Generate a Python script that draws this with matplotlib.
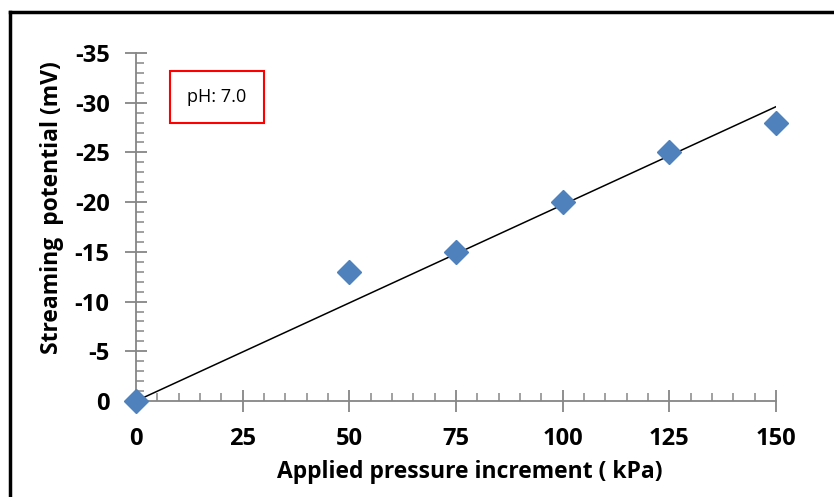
import numpy as np
import matplotlib.pyplot as plt
from matplotlib.ticker import MultipleLocator
from matplotlib.lines import Line2D

# measured data
pressure = np.array([0, 50, 75, 100, 125, 150])
potential = np.array([0, -13, -15, -20, -25, -28])

plt.rcParams['font.family'] = ['Open Sans', 'DejaVu Sans']
plt.rcParams['axes.unicode_minus'] = False

# linear trend forced through origin
slope = np.sum(pressure * potential) / np.sum(pressure * pressure)
x_fit = np.array([0, 150])
y_fit = slope * x_fit

fig = plt.figure(figsize=(8.34, 4.97), dpi=100)
ax = fig.add_axes([136 / 834, 1 - 401 / 497, 640 / 834, 348 / 497])

ax.plot(x_fit, y_fit, color='black', lw=1.1, zorder=2)
ax.plot(pressure, potential, 'D', color='#4F81BD', ms=12.5, mec='#4F81BD', zorder=3, clip_on=False)

ax.set_xlim(0, 150)
ax.set_ylim(0, -35)

grey = '#868686'
for s in ['top', 'right']:
    ax.spines[s].set_visible(False)
for s in ['left', 'bottom']:
    ax.spines[s].set_color(grey)
    ax.spines[s].set_linewidth(1.3)

ax.xaxis.set_major_locator(MultipleLocator(25))
ax.xaxis.set_minor_locator(MultipleLocator(5))
ax.yaxis.set_major_locator(MultipleLocator(5))
ax.yaxis.set_minor_locator(MultipleLocator(1))
ax.tick_params(which='major', direction='inout', length=16, width=1.3, color=grey, labelsize=17)
ax.tick_params(which='minor', direction='in', length=6, width=1.1, color=grey)
ax.tick_params(axis='x', which='major', pad=11)
ax.tick_params(axis='y', which='major', pad=11)
for lab in ax.get_xticklabels() + ax.get_yticklabels():
    lab.set_fontweight('bold')

ax.set_xlabel('Applied pressure increment ( kPa)', fontsize=16.5, fontweight='bold')
ax.set_ylabel('Streaming  potential (mV)', fontsize=16.5, fontweight='bold')
ax.xaxis.set_label_coords(470 / 834, 1 - 472 / 497, transform=fig.transFigure)
ax.yaxis.set_label_coords(52 / 834, 1 - 208 / 497, transform=fig.transFigure)
ax.xaxis.label.set_va('center')
ax.yaxis.label.set_va('center')

ax.text(217 / 834, 1 - 97 / 497, 'pH: 7.0', transform=fig.transFigure, fontsize=13,
        ha='center', va='center',
        bbox=dict(boxstyle='square,pad=0.95', fc='white', ec='red', lw=1.5))

# chart outer border (left and top only visible)
fig.add_artist(Line2D([10 / 834, 10 / 834], [0, 1 - 12 / 497], color='black', lw=2.5, transform=fig.transFigure))
fig.add_artist(Line2D([10 / 834, 1], [1 - 12 / 497, 1 - 12 / 497], color='black', lw=2.5, transform=fig.transFigure))

fig.savefig('out.png', dpi=100)
